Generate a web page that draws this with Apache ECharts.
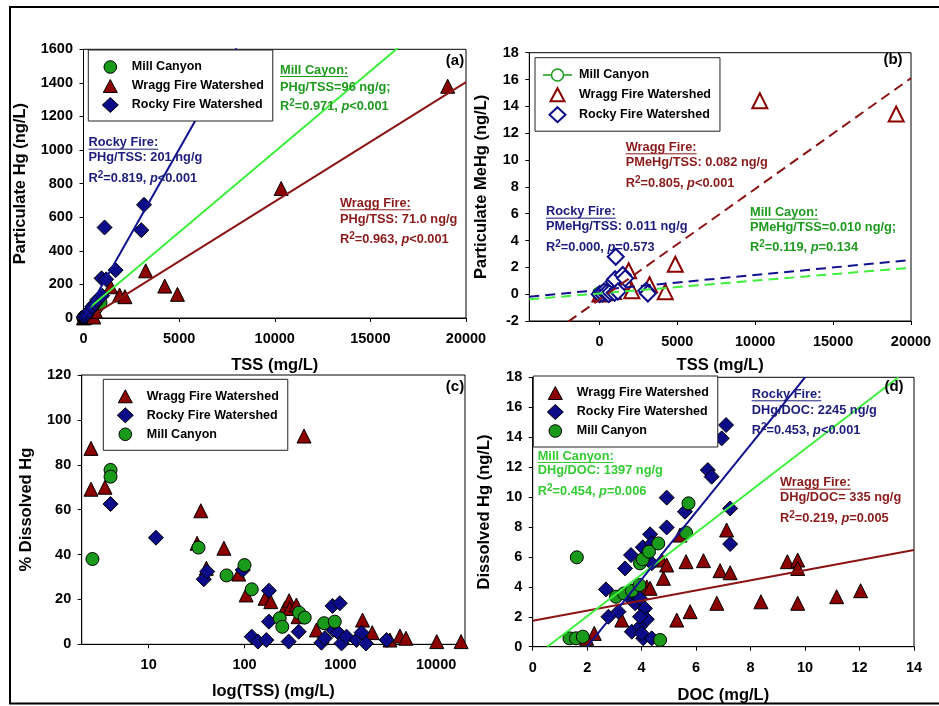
<!DOCTYPE html>
<html><head><meta charset="utf-8">
<script src="https://cdn.jsdelivr.net/npm/echarts@6/dist/echarts.min.js"></script>
<style>html,body{margin:0;padding:0;background:#fff}#c{width:939px;height:706px}</style>
</head><body><div id="c"></div>
<script>
// ---------- DATA ----------
// Panel (a): TSS (mg/L) vs Particulate Hg (ng/L)
const aMill  = [[3,0.3],[4,0.4],[4,0.5],[33,4],[65,7],[100,10],[119,12],[233,24],[248,23],[371,37],[425,41],[677,62],[890,90]];
const aWragg = [[3,0.5],[35,3],[61,4],[104,8],[188,12],[292,20],[418,28],[540,6],[630,40],[1416,186],[1888,137],[2167,127],[3252,281],[4249,190],[4912,141],[10335,771],[19043,1380]];
const aRocky = [[16,8],[120,15],[189,28],[300,40],[451,67],[600,85],[714,107],[944,236],[976,133],[1101,539],[1187,230],[1679,285],[3022,523],[3163,674]];
const aFitRocky = [[0,0],[8000,1608]];
const aFitMill  = [[300,59],[17000,1662]];
const aFitWragg = [[600,25],[20000,1405]];

// Panel (b): TSS (mg/L) vs Particulate MeHg (ng/L)
const bMill  = [[3,0.02],[33,0.03],[100,0.05],[233,0.08],[371,0.1],[425,0.05],[677,0.15],[875,0.1]];
const bWragg = [[35,0.02],[188,0.05],[300,0.1],[560,0.3],[900,0.2],[1609,1.3],[1716,0.93],[1876,1.75],[2080,0.25],[3218,0.7],[4228,0.18],[4871,2.23],[10296,14.42],[19048,13.43]];
const bRocky = [[16,0.0],[189,0.05],[300,0.2],[451,0.1],[600,0.0],[714,0.15],[920,0.93],[976,0.1],[1008,1.11],[1050,2.79],[1187,0.2],[1500,1.43],[1650,1.18],[3003,0.25],[3110,0.05]];
const bFitWragg = [[-2000,-2.05],[20000,16.1]];
const bFitRocky = [[-4500,-0.19],[20000,2.55]];
const bFitMill  = [[-4500,-0.38],[20000,1.97]];
const bTicks = [0,5000,10000,15000,20000];

// Panel (c): TSS (mg/L, log) vs % Dissolved Hg
const cWragg = [[2.5,87.3],[2.5,69.1],[3.5,70.0],[32,45],[35,59.5],[40,33.9],[61,42.8],[87,31.3],[104,22],[164,20.5],[188,19],[263,16],[292,19.4],[297,16],[348,17.5],[362,12.3],[418,92.8],[563,6.4],[1706,10.8],[2153,5.2],[3296,1.9],[4190,3.7],[4840,2.7],[10140,1.2],[18200,1.2]];
const cRocky = [[4.0,62.5],[11.9,47.5],[37.6,29.0],[40.8,32.4],[96,33.1],[119,3.4],[138,1.2],[169,1.9],[180,23.9],[180,10.1],[289,1.2],[368,5.6],[635,0.7],[688,2.7],[828,17.1],[841,6.4],[948,5.2],[988,18.3],[1029,0.4],[1161,3.4],[1476,1.9],[1666,5.2],[1849,0.4],[3044,1.9]];
const cMill  = [[2.59,38.0],[4.0,77.7],[4.0,74.7],[33.1,43.1],[65,30.7],[100,35.3],[119,24.5],[233,11.6],[248,7.8],[371,14.1],[425,11.9],[677,9.4],[875,10.1]];
const cTicks = [10,100,1000,10000];

// Panel (d): DOC (mg/L) vs Dissolved Hg (ng/L)
const dWragg = [[2.26,0.89],[1.98,0.56],[3.27,1.78],[4.19,4.0],[4.31,3.9],[4.74,5.79],[4.92,5.46],[4.80,4.57],[5.41,7.46],[5.29,1.78],[5.78,2.34],[5.63,5.68],[6.27,5.75],[6.76,2.90],[6.88,5.08],[7.12,7.80],[7.25,4.94],[8.38,3.0],[9.35,5.68],[9.73,5.79],[9.73,5.23],[9.73,2.90],[11.16,3.34],[12.04,3.74]];
const dRocky = [[7.10,14.81],[6.94,13.92],[6.43,11.80],[6.57,11.36],[7.25,9.24],[7.25,6.86],[4.92,9.96],[5.59,9.02],[4.92,7.97],[4.31,7.51],[4.04,6.64],[3.61,6.12],[3.39,5.23],[4.37,6.90],[4.37,5.57],[2.69,3.83],[2.78,2.0],[3.15,2.34],[3.58,3.23],[3.76,2.90],[3.94,3.23],[4.12,2.56],[4.19,1.83],[3.64,1.0],[3.94,1.34],[4.06,0.56],[4.37,0.56],[3.94,2.0],[4.0,0.89]];
const dMill  = [[1.62,5.97],[1.35,0.56],[1.59,0.56],[1.84,0.67],[3.06,3.34],[3.35,3.56],[3.64,3.74],[3.92,4.12],[3.94,5.57],[4.04,5.84],[4.27,6.35],[4.61,6.90],[5.63,7.62],[5.72,9.58],[4.68,0.45]];
const dFitRocky = [[2.0,0],[10.0,18]];
const dFitMill  = [[0.54,0],[13.43,18]];
const dFitWragg = [[0,1.74],[14,6.46]];

// ---------- STYLE ----------
const FONT = '"Liberation Sans", Arial, Helvetica, sans-serif';
const RED = '#8b0000', NAVY = '#0c0c88', GREEN = '#1a9a1a';
const LRED = '#8b1414', LNAVY = '#111190', LGREEN = '#3cf03c';
const TRED = '#8b1a1a', TNAVY = '#1c1c7c', TGREEN = '#1f9a1f', TLGREEN = '#33cc33';

function labelStyle(margin, extra) {
  return Object.assign({fontFamily: FONT, fontWeight: 'bold', fontSize: 14.5, color: '#000', margin, formatter: v => String(v)}, extra || {});
}
function tickStyle(extra) {
  return Object.assign({show: true, inside: false, length: 4, lineStyle: {color: '#000'}}, extra || {});
}
function xAxis(gi, min, max, name, nameGap, extra) {
  return Object.assign({
    type: 'value', gridIndex: gi, min, max, name, nameLocation: 'middle', nameGap,
    nameTextStyle: {fontFamily: FONT, fontWeight: 'bold', fontSize: 16.5, color: '#000'},
    axisLine: {show: true, onZero: false, lineStyle: {color: '#000', width: 1}},
    axisTick: tickStyle(),
    splitLine: {show: false},
    axisLabel: labelStyle(13.5)
  }, extra || {});
}
function yAxis(gi, min, max, interval, name, nameGap) {
  return {
    type: 'value', gridIndex: gi, min, max, interval, name, nameLocation: 'middle', nameGap,
    nameTextStyle: {fontFamily: FONT, fontWeight: 'bold', fontSize: 16.5, color: '#000'},
    axisLine: {show: true, onZero: false, lineStyle: {color: '#000', width: 1}},
    axisTick: tickStyle(),
    splitLine: {show: false},
    axisLabel: labelStyle(10.5)
  };
}
function scat(name, gi, data, symbol, color, size) {
  const empty = symbol.indexOf('empty') === 0;
  return {
    type: 'scatter', name, xAxisIndex: gi, yAxisIndex: gi, data, symbol, symbolSize: size,
    itemStyle: empty ? {color, borderColor: color, borderWidth: 2, opacity: 1}
                     : {color, borderColor: '#000', borderWidth: 1, opacity: 1},
    emphasis: {disabled: true}, z: 2
  };
}
function fit(gi, data, color, dashed, width) {
  return {
    type: 'line', xAxisIndex: gi, yAxisIndex: gi, data, symbol: 'none', clip: true, silent: true,
    lineStyle: {color, width: width || 2, type: dashed ? [10, 6] : 'solid'}, z: 3
  };
}

// legend icons: the bounding box (33 x 15) is fixed by the two leading moveTo points
const ICON = {
  tri: 'path://M0,0M33,15M9.5,14L16.5,1L23.5,14Z',
  dia: 'path://M0,0M33,15M16.5,0L24.5,7.5L16.5,15L8.5,7.5Z',
  cir: 'path://M0,0M33,15M10.2,7.5A6.3,6.3,0,1,1,22.8,7.5A6.3,6.3,0,1,1,10.2,7.5Z',
  line: 'path://M0,0M33,15M2,7.5H10.5M22.5,7.5H31M10.5,7.5A6,6,0,1,1,22.5,7.5A6,6,0,1,1,10.5,7.5'
};
function li(name, icon, color, border, bw) {
  return {name, icon: ICON[icon], itemStyle: {color, borderColor: border, borderWidth: bw}};
}
function legend(left, top, data) {
  return {
    show: true, orient: 'vertical', left, top, padding: [9, 9, 8, 5], itemGap: 3,
    itemWidth: 33, itemHeight: 15, selectedMode: false, backgroundColor: '#fff',
    borderColor: '#222', borderWidth: 1, borderRadius: 0, symbolKeepAspect: true,
    textStyle: {fontFamily: FONT, fontWeight: 'bold', fontSize: 12.5, color: '#000', lineHeight: 15},
    data, formatter: n => n.slice(2)
  };
}

const series = [
  scat('a:Mill Canyon', 0, aMill, 'circle', GREEN, 13),
  scat('a:Wragg Fire Watershed', 0, aWragg, 'triangle', RED, 14),
  scat('a:Rocky Fire Watershed', 0, aRocky, 'diamond', NAVY, 15),
  fit(0, aFitMill, LGREEN), fit(0, aFitWragg, LRED), fit(0, aFitRocky, LNAVY),

  scat('b:Mill Canyon', 1, bMill, 'emptyCircle', GREEN, 13),
  scat('b:Wragg Fire Watershed', 1, bWragg, 'emptyTriangle', RED, 15),
  scat('b:Rocky Fire Watershed', 1, bRocky, 'emptyDiamond', NAVY, 16),
  fit(1, bFitMill, LGREEN, true), fit(1, bFitRocky, LNAVY, true), fit(1, bFitWragg, LRED, true),

  scat('c:Wragg Fire Watershed', 2, cWragg, 'triangle', RED, 14),
  scat('c:Rocky Fire Watershed', 2, cRocky, 'diamond', NAVY, 15),
  scat('c:Mill Canyon', 2, cMill, 'circle', GREEN, 13),

  scat('d:Wragg Fire Watershed', 3, dWragg, 'triangle', RED, 14),
  scat('d:Rocky Fire Watershed', 3, dRocky, 'diamond', NAVY, 15),
  scat('d:Mill Canyon', 3, dMill, 'circle', GREEN, 13),
  fit(3, dFitWragg, LRED), fit(3, dFitMill, LGREEN), fit(3, dFitRocky, LNAVY)
];

// ---------- ANNOTATIONS ----------
const measureCtx = document.createElement('canvas').getContext('2d');
const AFS = 12.8;
function textW(s) { measureCtx.font = 'bold ' + AFS + 'px ' + FONT; return measureCtx.measureText(s).width; }
function annot(x, ys, color, lines) {
  const base = {fontFamily: FONT, fontWeight: 'bold', fontSize: AFS, fill: color, lineHeight: 16};
  const [h, l2, r2, pv] = lines;
  const els = [];
  els.push({type: 'text', x, y: ys[0], style: {text: h, font: 'bold ' + AFS + 'px ' + FONT, fill: color, textAlign: 'left', textVerticalAlign: 'middle'}, z: 100});
  els.push({type: 'line', shape: {x1: x, y1: ys[0] + 6.5, x2: x + textW(h), y2: ys[0] + 6.5}, style: {stroke: color, lineWidth: 1}, z: 100});
  els.push({type: 'text', x, y: ys[1], style: {text: l2, font: 'bold ' + AFS + 'px ' + FONT, fill: color, textAlign: 'left', textVerticalAlign: 'middle'}, z: 100});
  els.push({type: 'text', x, y: ys[2], style: {
    text: '{t|R}{s|2}{t|' + r2 + ', }{i|p}{t|' + pv + '}',
    textAlign: 'left', textVerticalAlign: 'middle',
    rich: {
      t: base,
      i: Object.assign({}, base, {fontStyle: 'italic'}),
      s: {fontFamily: FONT, fontWeight: 'bold', fontSize: 10, fill: color, lineHeight: 8, verticalAlign: 'top'}
    }}, z: 100});
  return els;
}
function plabel(x, y, t) {
  return {type: 'text', x, y, style: {text: t, font: 'bold 15px ' + FONT, fill: '#000', textAlign: 'center', textVerticalAlign: 'middle'}, z: 100};
}
const graphic = [
  {type: 'rect', shape: {x: 10, y: 7, width: 945, height: 696.5}, style: {fill: 'none', stroke: '#000', lineWidth: 2}, z: 0, silent: true},
  plabel(455, 61, '(a)'), plabel(893, 60, '(b)'), plabel(455, 387, '(c)'), plabel(894, 387, '(d)'),
  ...annot(280, [70, 87.3, 106.7], TGREEN, ['Mill Cayon:', 'PHg/TSS=96 ng/g;', '=0.971', '<0.001']),
  ...annot(88.5, [142.7, 157.7, 178.3], TNAVY, ['Rocky Fire:', 'PHg/TSS: 201 ng/g', '=0.819', '<0.001']),
  ...annot(340, [203.3, 219, 239.3], TRED, ['Wragg Fire:', 'PHg/TSS: 71.0 ng/g', '=0.963', '<0.001']),
  ...annot(625.7, [147.3, 162.7, 183.3], TRED, ['Wragg Fire:', 'PMeHg/TSS: 0.082 ng/g', '=0.805', '<0.001']),
  ...annot(546, [211.7, 226.7, 247.3], TNAVY, ['Rocky Fire:', 'PMeHg/TSS: 0.011 ng/g', '=0.000', '=0.573']),
  ...annot(750, [212.7, 227.3, 247.3], TGREEN, ['Mill Cayon:', 'PMeHg/TSS=0.010 ng/g;', '=0.119', '=0.134']),
  ...annot(751.7, [394.3, 410, 430.7], TNAVY, ['Rocky Fire:', 'DHg/DOC: 2245 ng/g', '=0.453', '<0.001']),
  ...annot(537.7, [456, 470.7, 491.7], TLGREEN, ['Mill Canyon:', 'DHg/DOC: 1397 ng/g', '=0.454', '=0.006']),
  ...annot(780, [482.7, 497.7, 518.3], TRED, ['Wragg Fire:', 'DHg/DOC= 335 ng/g', '=0.219', '=0.005'])
];

const gridBase = {show: true, borderColor: '#000', borderWidth: 1, backgroundColor: 'transparent'};
const option = {
  animation: false,
  backgroundColor: '#fff',
  grid: [
    Object.assign({left: 83.5, top: 49.3, width: 382.5, height: 268.7}, gridBase),
    Object.assign({left: 529.3, top: 52.7, width: 381.7, height: 268.3}, gridBase),
    Object.assign({left: 81.7, top: 375, width: 383.3, height: 269.3}, gridBase),
    Object.assign({left: 532.7, top: 377.3, width: 381.3, height: 269.4}, gridBase)
  ],
  xAxis: [
    xAxis(0, 0, 20000, 'TSS (mg/L)', 38.75, {interval: 5000}),
    xAxis(1, -4500, 20000, 'TSS (mg/L)', 35.75, {
      axisLabel: labelStyle(13.5, {customValues: bTicks}),
      axisTick: tickStyle({customValues: bTicks})
    }),
    xAxis(2, 2, 20000, 'log(TSS) (mg/L)', 39, {
      type: 'log', logBase: 10,
      axisLabel: labelStyle(13, {customValues: cTicks}),
      axisTick: tickStyle({customValues: cTicks}),
      minorTick: {show: false}
    }),
    xAxis(3, 0, 14, 'DOC (mg/L)', 40, {interval: 2})
  ],
  yAxis: [
    yAxis(0, 0, 1600, 200, 'Particulate Hg (ng/L)', 55),
    yAxis(1, -2, 18, 2, 'Particulate MeHg (ng/L)', 39.3),
    yAxis(2, 0, 120, 20, '% Dissolved Hg', 46.7),
    yAxis(3, 0, 18, 2, 'Dissolved Hg (ng/L)', 39.4)
  ],
  legend: [
    legend(88.3, 50, [
      li('a:Mill Canyon', 'cir', GREEN, '#000', 1),
      li('a:Wragg Fire Watershed', 'tri', RED, '#000', 1),
      li('a:Rocky Fire Watershed', 'dia', NAVY, '#000', 1)
    ]),
    legend(535, 57.7, [
      li('b:Mill Canyon', 'line', 'rgba(0,0,0,0)', GREEN, 1.5),
      li('b:Wragg Fire Watershed', 'tri', '#fff', RED, 2),
      li('b:Rocky Fire Watershed', 'dia', '#fff', NAVY, 2)
    ]),
    legend(103.3, 379.3, [
      li('c:Wragg Fire Watershed', 'tri', RED, '#000', 1),
      li('c:Rocky Fire Watershed', 'dia', NAVY, '#000', 1),
      li('c:Mill Canyon', 'cir', GREEN, '#000', 1)
    ]),
    legend(533.3, 376, [
      li('d:Wragg Fire Watershed', 'tri', RED, '#000', 1),
      li('d:Rocky Fire Watershed', 'dia', NAVY, '#000', 1),
      li('d:Mill Canyon', 'cir', GREEN, '#000', 1)
    ])
  ],
  series,
  graphic
};

const chart = echarts.init(document.getElementById('c'), null, {renderer: 'canvas'});
chart.setOption(option);
</script>
</body></html>
